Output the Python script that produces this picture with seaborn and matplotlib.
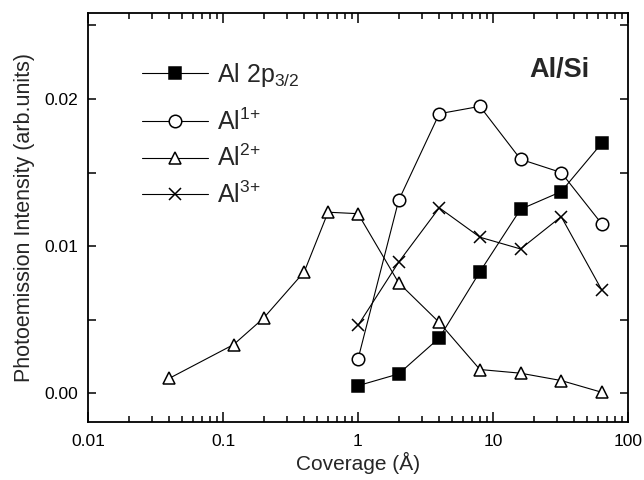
import numpy as np
import pandas as pd
import matplotlib
matplotlib.use('Agg')
import matplotlib.pyplot as plt
import matplotlib.ticker as mticker
import seaborn as sns

# dados
cov_2p = [1, 2, 4, 8, 16, 32, 64]
al_2p = [0.0005, 0.0013, 0.00375, 0.00825, 0.0125, 0.0137, 0.0170]

cov_1p = [1, 2, 4, 8, 16, 32, 64]
al_1p = [0.0023, 0.0131, 0.0190, 0.0195, 0.0159, 0.0150, 0.0115]

cov_2plus = [0.04, 0.12, 0.2, 0.4, 0.6, 1, 2, 4, 8, 16, 32, 64]
al_2plus = [0.0010, 0.0033, 0.0051, 0.00825, 0.0123, 0.0122, 0.0075,
            0.0048, 0.0016, 0.00135, 0.00085, 0.00005]

cov_3p = [1, 2, 4, 8, 16, 32, 64]
al_3p = [0.0046, 0.0089, 0.0126, 0.0106, 0.0098, 0.0120, 0.0070]

labels = [r'Al 2p$_{\mathregular{3/2}}$', r'Al$^{\mathregular{1{+}}}$',
          r'Al$^{\mathregular{2{+}}}$', r'Al$^{\mathregular{3{+}}}$']
xticks = [0.01, 0.1, 1, 10, 100]
xticklabels = ['0.01', '0.1', '1', '10', '100']
yticks = [0.0, 0.01, 0.02]
yticklabels = ['0.00', '0.01', '0.02']

sns.set_style('ticks')
plt.rcParams['font.family'] = ['Liberation Sans', 'DejaVu Sans']
plt.rcParams['mathtext.fontset'] = 'custom'
plt.rcParams['mathtext.rm'] = 'Liberation Sans'
plt.rcParams['mathtext.it'] = 'Liberation Sans:italic'
plt.rcParams['mathtext.bf'] = 'Liberation Sans:bold'

fig = plt.figure(figsize=(6.44, 4.8), dpi=100)
ax = fig.add_axes([88 / 644, 58 / 480, 540 / 644, 409 / 480])
ax.set_xscale('log')

series = [
    (cov_2p, al_2p, dict(marker='s', mfc='black', mec='black')),
    (cov_1p, al_1p, dict(marker='o', mfc='white', mec='black')),
    (cov_2plus, al_2plus, dict(marker='^', mfc='white', mec='black')),
    (cov_3p, al_3p, dict(marker='x', mfc='black', mec='black')),
]
for (xs, ys, st), lab in zip(series, labels):
    df = pd.DataFrame({'cov': xs, 'val': ys})
    sns.lineplot(data=df, x='cov', y='val', ax=ax, color='black', lw=0.8,
                 ms=9, mew=1.1, label=lab, **st)

ax.set_xlim(0.01, 100)
ax.set_ylim(-0.00197, 0.02585)
ax.set_xticks(xticks)
ax.set_xticklabels(xticklabels)
ax.xaxis.set_minor_locator(mticker.LogLocator(base=10, subs=np.arange(2, 10), numticks=20))
ax.xaxis.set_minor_formatter(mticker.NullFormatter())
ax.set_yticks(yticks)
ax.set_yticklabels(yticklabels)
ax.yaxis.set_minor_locator(mticker.MultipleLocator(0.005))

ax.tick_params(which='both', direction='in', top=True, right=True, width=1.1,
               labelsize=12.5, colors='black')
ax.tick_params(axis='x', which='major', length=7, pad=9)
ax.tick_params(axis='x', which='minor', length=4)
ax.tick_params(axis='y', which='major', length=6, pad=7)
ax.tick_params(axis='y', which='minor', length=6)
for sp in ax.spines.values():
    sp.set_linewidth(1.3)
    sp.set_color('black')

ax.set_xlabel('Coverage (Å)', fontsize=15, labelpad=2)
ax.set_ylabel('Photoemission Intensity (arb.units)', fontsize=15.5, labelpad=7)

ax.text(31, 0.0220, 'Al/Si', ha='center', va='center', fontsize=19.5, fontweight='bold')

# legenda em dois blocos (a primeira linha fica mais afastada no original)
h, l = ax.get_legend_handles_labels()
leg_kw = dict(frameon=False, fontsize=18, handlelength=2.64, handletextpad=0.35,
              borderpad=0, borderaxespad=0, numpoints=1, loc='center left')
leg1 = ax.legend(h[:1], l[:1], bbox_to_anchor=(0.1, 0.848), **leg_kw)
ax.add_artist(leg1)
ax.legend(h[1:], l[1:], bbox_to_anchor=(0.1, 0.645), labelspacing=0.4, **leg_kw)

fig.savefig('out.png', dpi=100)
